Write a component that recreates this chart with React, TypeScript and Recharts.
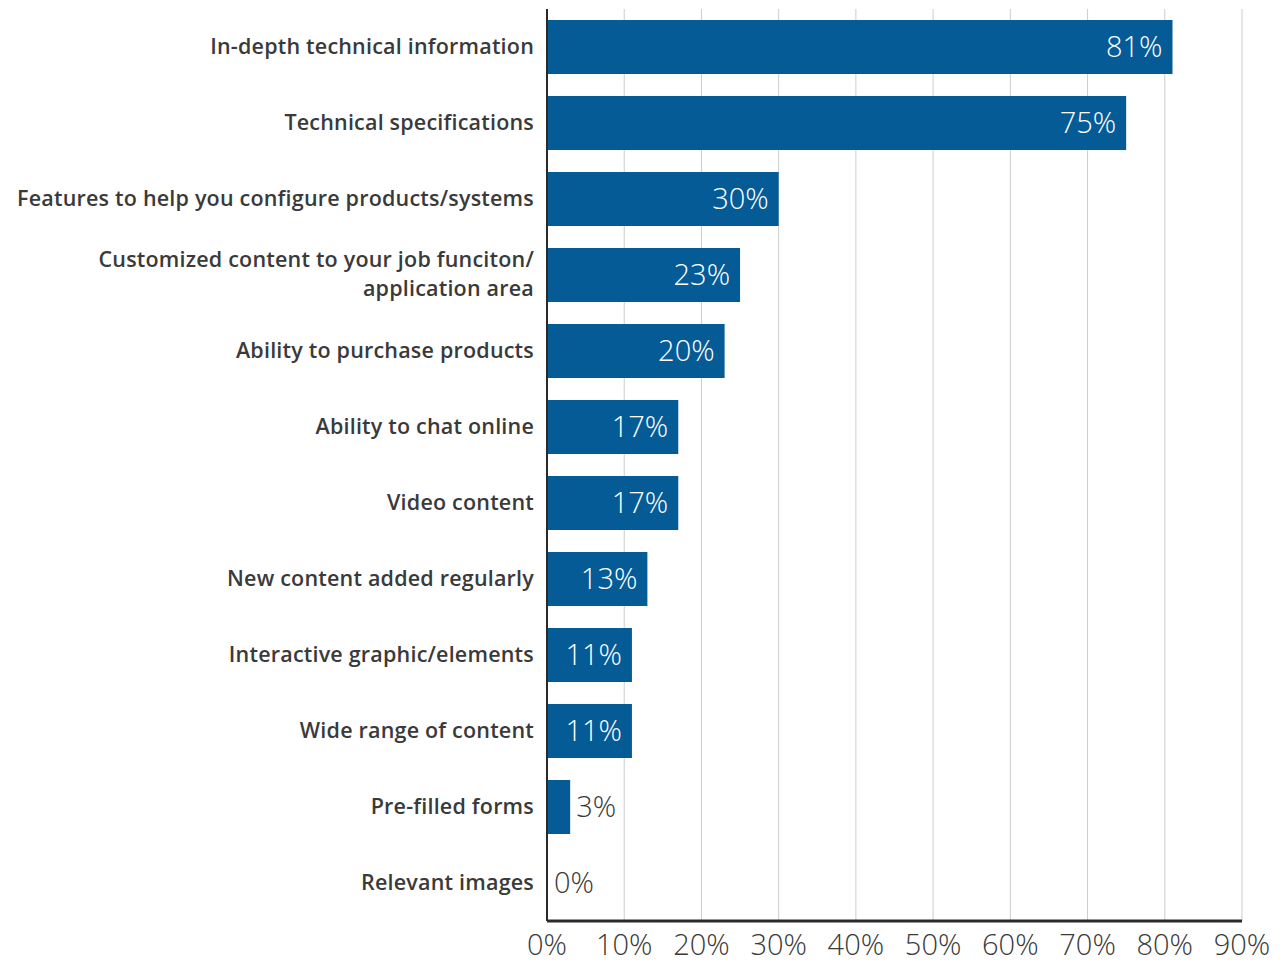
import React from 'react';
import { BarChart, Bar, XAxis, YAxis, CartesianGrid, LabelList } from 'recharts';

const categories = [
  'In-depth technical information',
  'Technical specifications',
  'Features to help you configure products/systems',
  'Customized content to your job funciton/\napplication area',
  'Ability to purchase products',
  'Ability to chat online',
  'Video content',
  'New content added regularly',
  'Interactive graphic/elements',
  'Wide range of content',
  'Pre-filled forms',
  'Relevant images',
];
// bar lengths as drawn in the picture
const barValues = [81, 75, 30, 25, 23, 17, 17, 13, 11, 11, 3, 0];
// labels printed on the bars
const valueLabels = ['81%', '75%', '30%', '23%', '20%', '17%', '17%', '13%', '11%', '11%', '3%', '0%'];
const xTicks = [0, 10, 20, 30, 40, 50, 60, 70, 80, 90];

const data = categories.map((c, i) => ({ name: c, value: barValues[i], label: valueLabels[i] }));

const LABEL_FONT = "'Open Sans', sans-serif";
const NUM_FONT = "'Open Sans', sans-serif";
const TEXT = '#3a3a3a';
const BAR = '#045b96';

function YTick(props: any) {
  const { x, y, payload } = props;
  const lines = String(payload.value).split('\n');
  const lh = 29;
  const y0 = y - ((lines.length - 1) * lh) / 2 - 1;
  return (
    <text
      x={x}
      y={y0}
      textAnchor="end"
      fill={TEXT}
      fontSize={21.5}
      fontWeight={600}
      letterSpacing={0.2}
      fontFamily={LABEL_FONT}
    >
      {lines.map((l, i) => (
        <tspan key={i} x={x} y={y0 + i * lh} dy="0.35em">
          {l}
        </tspan>
      ))}
    </text>
  );
}

function XTick(props: any) {
  const { x, y, payload } = props;
  return (
    <text x={x} y={y} dy="0.71em" textAnchor="middle" fill={TEXT} fontSize={29} fontWeight={300} fontFamily={NUM_FONT}>
      {payload.value}%
    </text>
  );
}

function ValueLabel(props: any) {
  const { x, y, width, height, value, index } = props;
  const v = barValues[index];
  const inside = v >= 10;
  return (
    <text
      x={inside ? x + width - 10 : x + width + 6}
      y={y + height / 2}
      dy="0.36em"
      textAnchor={inside ? 'end' : 'start'}
      fill={inside ? '#ffffff' : TEXT}
      fontSize={29}
      fontWeight={300}
      fontFamily={NUM_FONT}
    >
      {value}
    </text>
  );
}

export default function App() {
  return (
    <div style={{ position: 'absolute', left: 0, top: 0, width: 1286, height: 964, background: '#fff' }}>
      <BarChart
        width={1286}
        height={964}
        data={data}
        layout="vertical"
        margin={{ top: 9, right: 44, left: 0, bottom: 0 }}
        barCategoryGap={22}
      >
        <CartesianGrid horizontal={false} stroke="#cccccc" strokeWidth={1} />
        <XAxis
          type="number"
          domain={[0, 90]}
          ticks={xTicks}
          interval={0}
          height={43}
          tickLine={false}
          tickMargin={7}
          axisLine={{ stroke: '#2a2a2a', strokeWidth: 3 }}
          tick={<XTick />}
        />
        <YAxis
          type="category"
          dataKey="name"
          width={547}
          interval={0}
          tickLine={false}
          tickMargin={7}
          axisLine={{ stroke: '#2a2a2a', strokeWidth: 2 }}
          tick={<YTick />}
        />
        <Bar dataKey="value" fill={BAR} isAnimationActive={false} barSize={54} minPointSize={1}>
          <LabelList dataKey="label" content={<ValueLabel />} />
        </Bar>
      </BarChart>
    </div>
  );
}
